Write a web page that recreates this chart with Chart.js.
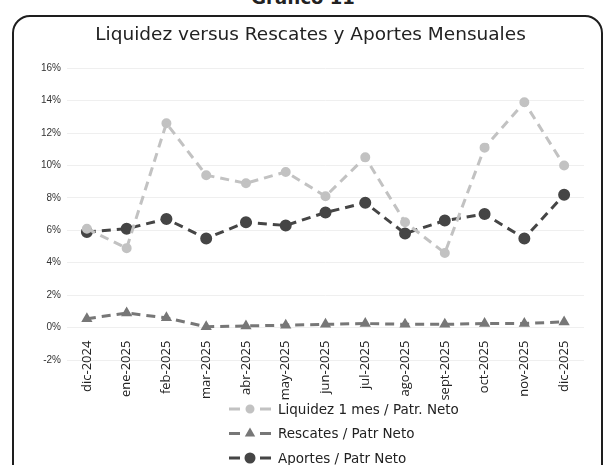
<!DOCTYPE html>
<html>
<head>
<meta charset="utf-8">
<script src="https://cdn.jsdelivr.net/npm/chart.js@4/dist/chart.umd.min.js"></script>
<style>
  body { margin: 0; background: #fff; overflow: hidden; }
  #wrap { position: relative; width: 606px; height: 465px; overflow: hidden; }
  #frame { position: absolute; left: 12px; top: 15px; width: 587px; height: 470px;
           border: 2px solid #1e1e1e; border-radius: 18px; }
  #pretitle { position: absolute; top: -13px; left: 0; width: 606px; text-align: center;
              font: bold 18px 'DejaVu Sans', sans-serif; color: #222; }
  canvas { position: absolute; left: 0; top: 0; }
</style>
</head>
<body>
<div id="wrap">
  <div id="pretitle">Gráfico 11</div>
  <div id="frame"></div>
  <canvas id="chartCanvas" width="606" height="465"></canvas>
</div>
<script>
// Data (percent)
const months = ['dic-2024', 'ene-2025', 'feb-2025', 'mar-2025', 'abr-2025', 'may-2025', 'jun-2025',
                'jul-2025', 'ago-2025', 'sept-2025', 'oct-2025', 'nov-2025', 'dic-2025'];
const liquidez = [6.1, 4.9, 12.6, 9.4, 8.9, 9.6, 8.1, 10.5, 6.5, 4.6, 11.1, 13.9, 10.0];
const rescates = [0.55, 0.9, 0.6, 0.05, 0.1, 0.15, 0.2, 0.25, 0.2, 0.2, 0.25, 0.25, 0.35];
const aportes = [5.9, 6.1, 6.7, 5.5, 6.5, 6.3, 7.1, 7.7, 5.8, 6.6, 7.0, 5.5, 8.2];
const yMin = -2, yMax = 16, yStep = 2;

// legend drawn as stacked rows under the axis labels
const stackedLegend = {
    id: 'stackedLegend',
    afterDraw(chart) {
        const ctx = chart.ctx;
        ctx.save();
        chart.data.datasets.forEach(function(ds, i) {
            const y = 409 + i * 24.5;
            ctx.strokeStyle = ds.borderColor;
            ctx.lineWidth = ds.borderWidth;
            ctx.setLineDash([]);
            ctx.beginPath();
            ctx.moveTo(229, y); ctx.lineTo(240, y);
            ctx.moveTo(260, y); ctx.lineTo(271, y);
            ctx.stroke();
            ctx.fillStyle = ds.pointBackgroundColor;
            ctx.strokeStyle = ds.pointBorderColor;
            Chart.helpers.drawPoint(ctx, {
                pointStyle: ds.pointStyle, radius: ds.pointRadius - 0.5, rotation: 0, borderWidth: 1
            }, 250, y);
            ctx.fillStyle = '#222';
            ctx.font = '13.5px "DejaVu Sans"';
            ctx.textBaseline = 'middle';
            ctx.fillText(ds.label, 278, y + 1);
        });
        ctx.restore();
    }
};

const ctx = document.getElementById('chartCanvas').getContext('2d');
new Chart(ctx, {
    type: 'line',
    data: {
        labels: months,
        datasets: [{
            label: 'Liquidez 1 mes / Patr. Neto',
            data: liquidez,
            borderColor: '#c2c2c2',
            borderWidth: 3,
            borderDash: [9, 6],
            pointStyle: 'circle',
            pointRadius: 3.5,
            pointBackgroundColor: '#c2c2c2',
            pointBorderColor: '#c2c2c2'
        }, {
            label: 'Rescates / Patr Neto',
            data: rescates,
            borderColor: '#777777',
            borderWidth: 3,
            borderDash: [9, 6],
            pointStyle: 'triangle',
            pointRadius: 3.5,
            pointBackgroundColor: '#777777',
            pointBorderColor: '#777777'
        }, {
            label: 'Aportes / Patr Neto',
            data: aportes,
            borderColor: '#454545',
            borderWidth: 3,
            borderDash: [9, 6],
            pointStyle: 'circle',
            pointRadius: 4.5,
            pointBackgroundColor: '#454545',
            pointBorderColor: '#454545'
        }]
    },
    options: {
        responsive: false,
        animation: false,
        layout: { padding: { left: 37, right: 22, top: 0, bottom: 105 } },
        plugins: {
            legend: { display: false },
            tooltip: { enabled: false },
            title: {
                display: true,
                text: 'Liquidez versus Rescates y Aportes Mensuales',
                color: '#222',
                font: { family: 'DejaVu Sans', size: 18.5, weight: 'normal' },
                padding: { top: 24, bottom: 22 }
            }
        },
        scales: {
            x: {
                position: { y: 0 },
                offset: true,
                grid: { display: false },
                border: { display: false },
                ticks: {
                    color: '#222',
                    font: { family: 'Open Sans', size: 13 },
                    minRotation: 90,
                    maxRotation: 90,
                    padding: 5,
                    autoSkip: false
                }
            },
            y: {
                min: yMin,
                max: yMax,
                afterFit: function(scale) { scale.width = 30; },
                grid: { color: '#efefef', drawTicks: false },
                border: { display: false },
                ticks: {
                    stepSize: yStep,
                    color: '#333',
                    padding: 6,
                    font: { family: 'Liberation Sans', size: 10 },
                    callback: function(v) { return v + '%'; }
                }
            }
        }
    },
    plugins: [stackedLegend]
});
</script>
</body>
</html>
